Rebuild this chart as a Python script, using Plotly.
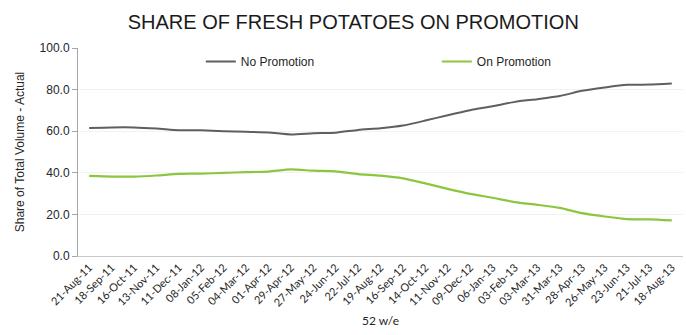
import plotly.graph_objects as go

# 52 week-ending periods
weeks = [
    "21-Aug-11", "18-Sep-11", "16-Oct-11", "13-Nov-11", "11-Dec-11", "08-Jan-12",
    "05-Feb-12", "04-Mar-12", "01-Apr-12", "29-Apr-12", "27-May-12", "24-Jun-12",
    "22-Jul-12", "19-Aug-12", "16-Sep-12", "14-Oct-12", "11-Nov-12", "09-Dec-12",
    "06-Jan-13", "03-Feb-13", "03-Mar-13", "31-Mar-13", "28-Apr-13", "26-May-13",
    "23-Jun-13", "21-Jul-13", "18-Aug-13",
]

# Share of total volume (%)
no_promotion = [
    61.5, 61.8, 61.8, 61.3, 60.5, 60.4, 60.0, 59.7, 59.4, 58.4, 59.0, 59.3,
    60.6, 61.4, 62.7, 65.1, 67.7, 70.1, 72.0, 74.1, 75.4, 76.9, 79.4, 81.0,
    82.3, 82.4, 82.9,
]
on_promotion = [
    38.5, 38.2, 38.2, 38.7, 39.5, 39.6, 40.0, 40.3, 40.6, 41.6, 41.0, 40.7,
    39.4, 38.6, 37.3, 34.9, 32.3, 29.9, 28.0, 25.9, 24.6, 23.1, 20.6, 19.0,
    17.7, 17.6, 17.1,
]

GREY = "#5f5f5f"
GREEN = "#8cc63f"
TEXT = "#262626"

fig = go.Figure()
fig.add_trace(go.Scatter(
    x=weeks, y=no_promotion, name="No Promotion", mode="lines",
    line=dict(color=GREY, width=2, shape="spline", smoothing=0.6),
))
fig.add_trace(go.Scatter(
    x=weeks, y=on_promotion, name="On Promotion", mode="lines",
    line=dict(color=GREEN, width=2.2, shape="spline", smoothing=0.6),
))

fig.update_layout(
    width=686, height=335,
    margin=dict(l=78, r=3, t=48, b=79),
    paper_bgcolor="white", plot_bgcolor="white",
    font=dict(family="Liberation Sans, Arial, sans-serif", size=12, color=TEXT),
    title=dict(
        text="SHARE OF FRESH POTATOES ON PROMOTION",
        font=dict(family="Liberation Sans, Arial, sans-serif", size=20, color="#1a1a1a"),
        x=0.515, xanchor="center", y=0.935, yanchor="middle",
        xref="container", yref="container",
    ),
    showlegend=True,
    legend=dict(
        orientation="h", x=0.203, xanchor="left", y=0.935, yanchor="middle",
        bgcolor="rgba(0,0,0,0)", font=dict(size=12, color=TEXT),
        itemwidth=30, entrywidth=191, entrywidthmode="pixels",
        traceorder="normal",
    ),
    xaxis=dict(
        type="category",
        range=[-0.5, len(weeks) - 0.5],
        automargin=False,
        tickangle=-45,
        tickfont=dict(family="Lato, Liberation Sans, sans-serif", size=11, color=TEXT),
        showgrid=False,
        showline=True, linecolor="#c8c8c8", linewidth=1,
        ticks="", zeroline=False,
        title=dict(text="52 w/e", font=dict(family="Lato, sans-serif", size=12, color=TEXT),
                   standoff=8),
    ),
    yaxis=dict(
        range=[0, 100], dtick=20, tickformat=".1f",
        automargin=False,
        showgrid=True, gridcolor="#f2f2f2", gridwidth=1,
        showline=True, linecolor="#a6a6a6", linewidth=1,
        ticks="outside", ticklen=5, tickcolor="#a6a6a6",
        zeroline=False,
        tickfont=dict(size=12, color=TEXT),
        title=dict(text="Share of Total Volume - Actual", font=dict(size=12, color=TEXT),
                   standoff=12),
    ),
)

fig.write_html("out.html")
